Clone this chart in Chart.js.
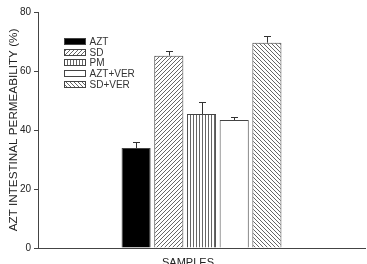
<!DOCTYPE html>
<html>
<head>
<meta charset="utf-8">
<script src="https://cdn.jsdelivr.net/npm/chart.js@4"></script>
<style>
  html, body { margin: 0; padding: 0; background: #fff; overflow: hidden; }
  #wrap { width: 367px; height: 268px; }
</style>
</head>
<body>
<div id="wrap"><canvas id="permChart"></canvas></div>
<script>
// data
const samples = ["AZT", "SD", "PM", "AZT+VER", "SD+VER"];
const permeability = [33.9, 65.2, 45.4, 43.4, 69.6];
const errors = [1.9, 1.7, 4.1, 1.0, 2.3];
const yTicks = [0, 20, 40, 60, 80];

// hatch fills
function makePattern(kind) {
    const size = kind === "vert" ? 3 : 4;
    const c = document.createElement("canvas");
    c.width = size; c.height = size;
    const g = c.getContext("2d");
    g.fillStyle = "#fff";
    g.fillRect(0, 0, size, size);
    g.strokeStyle = "#555";
    g.lineWidth = 0.9;
    g.beginPath();
    if (kind === "vert") {
        g.moveTo(1.5, 0); g.lineTo(1.5, size);
    } else if (kind === "fwd") {
        g.moveTo(-1, size + 1); g.lineTo(size + 1, -1);
        g.moveTo(-1, 1); g.lineTo(1, -1);
        g.moveTo(size - 1, size + 1); g.lineTo(size + 1, size - 1);
    } else {
        g.moveTo(-1, -1); g.lineTo(size + 1, size + 1);
        g.moveTo(size - 1, -1); g.lineTo(size + 1, 1);
        g.moveTo(-1, size - 1); g.lineTo(1, size + 1);
    }
    g.stroke();
    return g.createPattern(c, "repeat");
}

const fills = ["#000", makePattern("fwd"), makePattern("vert"), "#fff", makePattern("back")];

const datasets = samples.map((name, i) => ({
    label: name,
    data: [permeability[i]],
    backgroundColor: fills[i],
    borderColor: "#444",
    borderWidth: 1,
    borderSkipped: "bottom"
}));

// error bars (upper only, with cap)
const errorBars = {
    id: "errorBars",
    afterDatasetsDraw(chart) {
        const ctx = chart.ctx;
        const y = chart.scales.y;
        ctx.save();
        ctx.strokeStyle = "#333";
        ctx.lineWidth = 1;
        chart.data.datasets.forEach((ds, i) => {
            const bar = chart.getDatasetMeta(i).data[0];
            const x = Math.round(bar.x) + 0.5;
            const top = y.getPixelForValue(permeability[i]);
            const end = Math.round(y.getPixelForValue(permeability[i] + errors[i])) + 0.5;
            ctx.beginPath();
            ctx.moveTo(x, top);
            ctx.lineTo(x, end);
            ctx.moveTo(x - 3.5, end);
            ctx.lineTo(x + 3.5, end);
            ctx.stroke();
        });
        ctx.restore();
    }
};

// legend box in the upper left of the plot, plus x title
const innerLegend = {
    id: "innerLegend",
    afterDraw(chart) {
        const ctx = chart.ctx;
        const area = chart.chartArea;
        ctx.save();
        ctx.font = "10px 'Liberation Sans', Arial, sans-serif";
        ctx.textBaseline = "middle";
        chart.data.datasets.forEach((ds, i) => {
            const bx = Math.round(area.left + 26) + 0.5;
            const by = Math.round(area.top + 26 + i * 10.7) + 0.5;
            ctx.fillStyle = ds.backgroundColor;
            ctx.fillRect(bx, by, 21, 6);
            ctx.strokeStyle = "#444";
            ctx.lineWidth = 1;
            ctx.strokeRect(bx, by, 21, 6);
            ctx.fillStyle = "#333";
            ctx.fillText(ds.label, bx + 25, by + 3.5);
        });
        ctx.font = "11px 'Liberation Sans', Arial, sans-serif";
        ctx.textAlign = "center";
        ctx.textBaseline = "top";
        ctx.fillStyle = "#222";
        ctx.fillText("SAMPLES", 188, area.bottom + 9);
        ctx.restore();
    }
};

new Chart(document.getElementById("permChart"), {
    type: "bar",
    data: { labels: [""], datasets: datasets },
    options: {
        responsive: true,
        maintainAspectRatio: false,
        animation: false,
        layout: { padding: { top: 12, right: 2, left: 0, bottom: 0 } },
        plugins: { legend: { display: false }, tooltip: { enabled: false } },
        datasets: { bar: { categoryPercentage: 0.5, barPercentage: 0.89 } },
        scales: {
            x: {
                grid: { display: false },
                border: { display: true, color: "#444", width: 1 },
                ticks: { display: false },
                afterFit(scale) { scale.height = 20; }
            },
            y: {
                min: 0,
                max: 80,
                afterBuildTicks(scale) { scale.ticks = yTicks.map(v => ({ value: v })); },
                grid: { drawOnChartArea: false, drawTicks: true, tickLength: 4, tickColor: "#444" },
                border: { display: true, color: "#444", width: 1 },
                ticks: {
                    color: "#222",
                    padding: 3,
                    font: { family: "'Liberation Sans', Arial, sans-serif", size: 10 }
                },
                title: {
                    display: true,
                    text: "AZT INTESTINAL PERMEABILITY (%)",
                    color: "#222",
                    padding: { top: 7, bottom: 0 },
                    font: { family: "'Liberation Sans', Arial, sans-serif", size: 11.7 }
                },
                afterFit(scale) { scale.width = 38; }
            }
        }
    },
    plugins: [errorBars, innerLegend]
});
</script>
</body>
</html>
